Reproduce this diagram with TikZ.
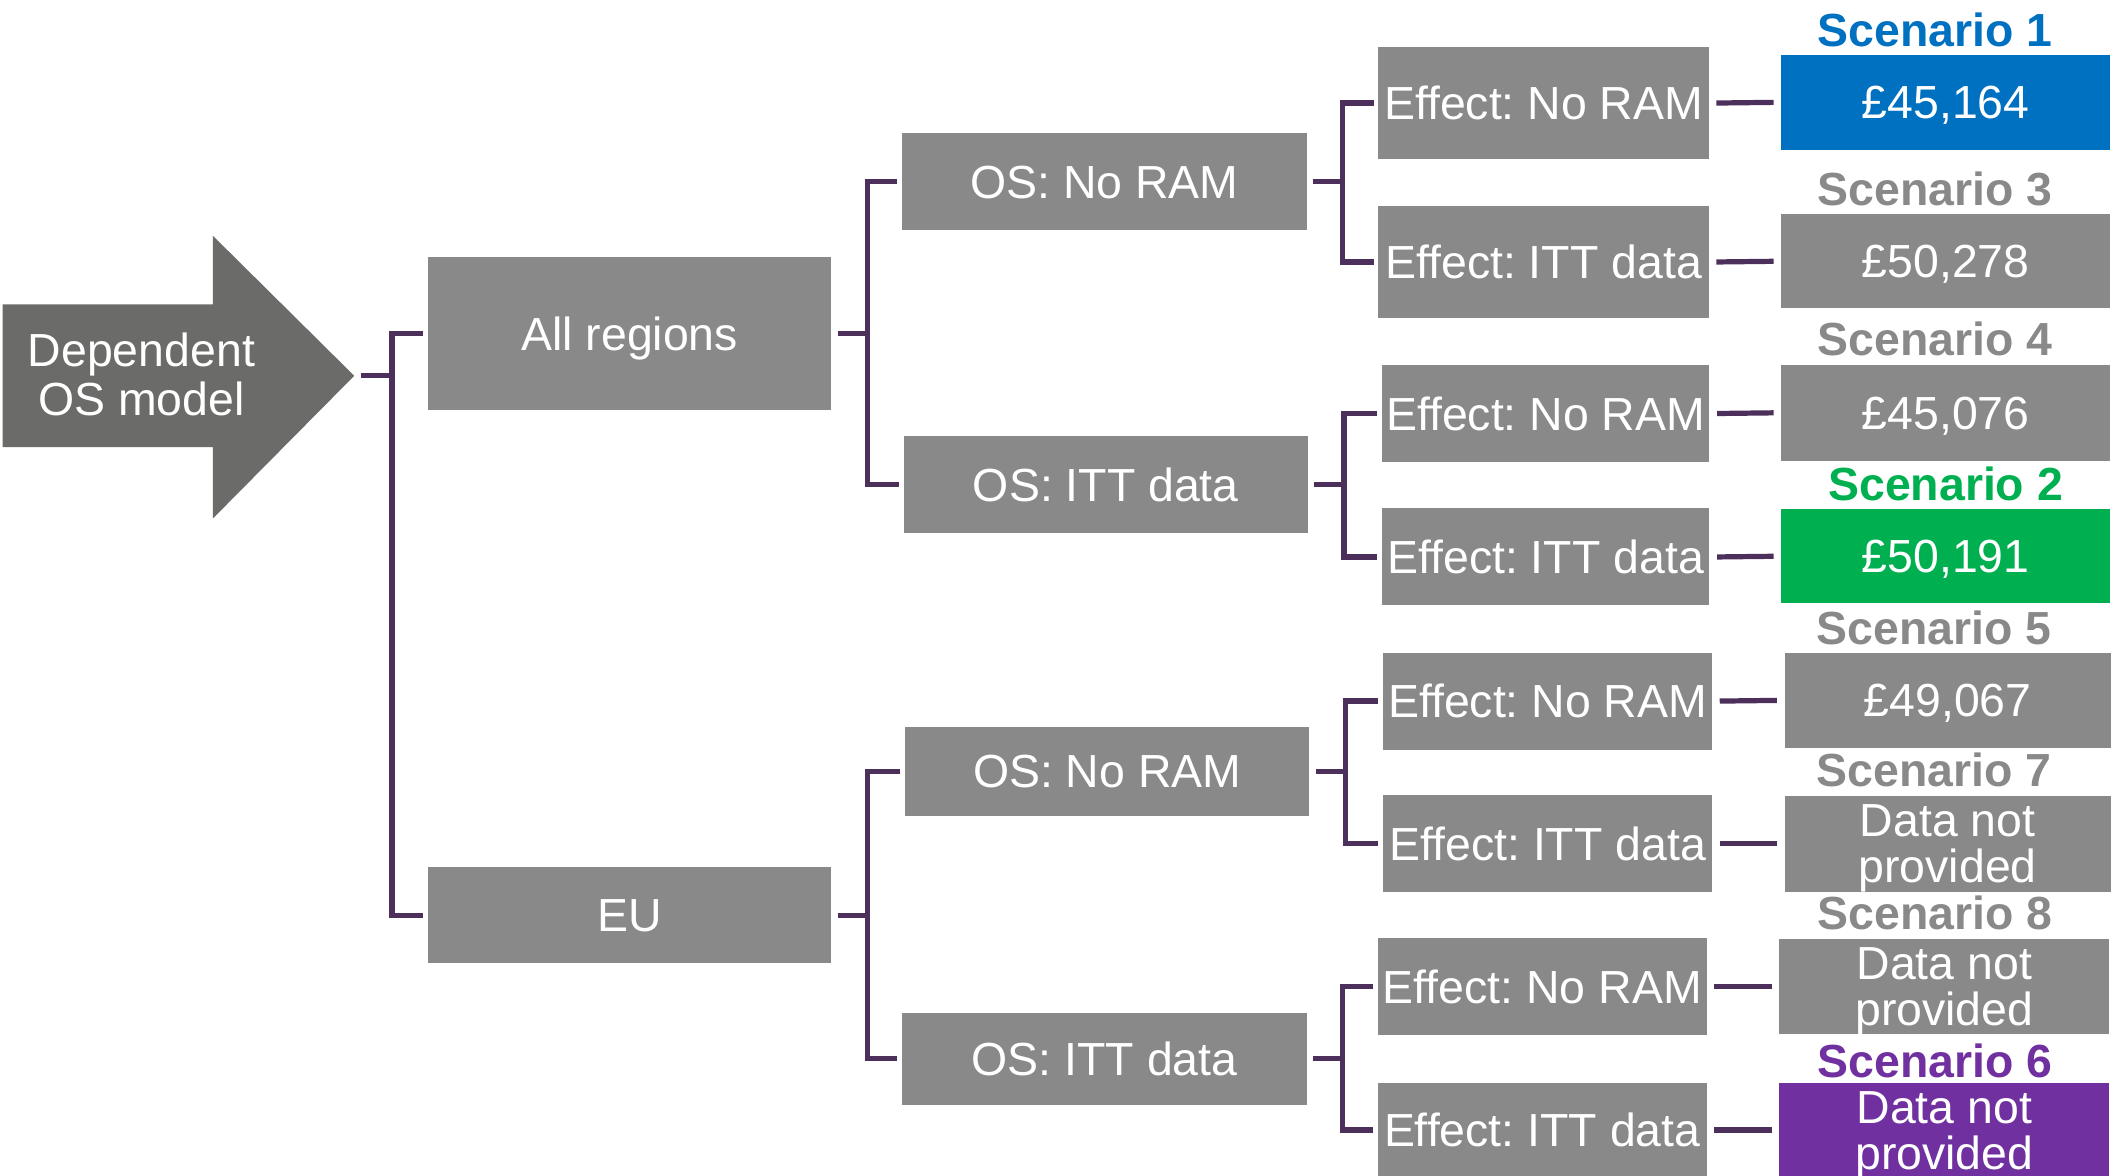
\documentclass[tikz,border=0pt]{standalone}
\usepackage{fontspec}
\setmainfont{Liberation Sans}
\frenchspacing

\definecolor{boxgray}{HTML}{898989}
\definecolor{arrowgray}{HTML}{6B6B69}
\definecolor{linkpurple}{HTML}{4D2F5C}
\definecolor{scenblue}{HTML}{0070C0}
\definecolor{scengreen}{HTML}{00B050}
\definecolor{scenpurple}{HTML}{7030A0}

\begin{document}
\begin{tikzpicture}[x=0.01cm,y=-0.01cm,
        box/.style={fill=boxgray,text=white,inner sep=0pt,align=center,text depth=0pt,font=\fontsize{9.8pt}{9.7pt}\selectfont},
        regionbox/.style={box,minimum width=2.99cm},
        osbox/.style={box,minimum width=3cm},
        effbox/.style={box,minimum width=2.45cm,minimum height=0.72cm},
        scenbox/.style={box,minimum width=2.44cm,minimum height=0.71cm},
        scenname/.style={inner sep=0pt,anchor=base,font=\fontsize{9.8pt}{9.8pt}\selectfont\bfseries},
        link/.style={draw=linkpurple,line width=1.1pt}]
        \useasboundingbox (0,0) rectangle (1568,873);
        \fill[arrowgray] (2,226) -- (158,226) -- (158,175) -- (263,279) -- (158,385) -- (158,332) -- (2,332) -- cycle;
        \coordinate (tip) at (263,279);
        \node[text=white,align=center,inner sep=0pt,font=\fontsize{9.8pt}{10.2pt}\selectfont] (dep) at (105,278) {Dependent\\OS model};

        \node[regionbox,minimum height=1.13cm] (allreg) at (467.5,247.5) {All regions};
        \node[regionbox,minimum height=0.71cm] (eu) at (467.5,679.5) {EU};

        \node[osbox,minimum height=0.72cm] (osram1) at (820,135) {OS: No RAM};
        \node[osbox,minimum height=0.72cm] (ositt1) at (821,360) {OS: ITT data};
        \node[osbox,minimum height=0.66cm] (osram2) at (822,573) {OS: No RAM};
        \node[osbox,minimum height=0.68cm] (ositt2) at (820,786) {OS: ITT data};

        \node[effbox,minimum height=0.83cm] (eff1) at (1146,76.5) {Effect: No RAM};
        \node[effbox,minimum height=0.83cm] (eff2) at (1146,194.5) {Effect: ITT data};
        \node[effbox,minimum width=2.43cm] (eff3) at (1147.5,307) {Effect: No RAM};
        \node[effbox,minimum width=2.43cm] (eff4) at (1147.5,413.5) {Effect: ITT data};
        \node[effbox,minimum width=2.44cm] (eff5) at (1149,520.5) {Effect: No RAM};
        \node[effbox,minimum width=2.44cm] (eff6) at (1149,626.5) {Effect: ITT data};
        \node[effbox,minimum width=2.44cm] (eff7) at (1145,732.5) {Effect: No RAM};
        \node[effbox,minimum width=2.44cm,minimum height=0.7cm] (eff8) at (1145,839) {Effect: ITT data};

        \node[scenbox,fill=scenblue,minimum height=0.70cm] (scen1) at (1444.5,76) {£45,164};
        \node[scenbox,minimum height=0.70cm] (scen3) at (1444.5,194) {£50,278};
        \node[scenbox] (scen4) at (1444.5,306.5) {£45,076};
        \node[scenbox,fill=scengreen,minimum height=0.70cm] (scen2) at (1444.5,413) {£50,191};
        \node[scenbox,minimum width=2.42cm,minimum height=0.70cm] (scen5) at (1446,520) {£49,067};
        \node[scenbox,minimum width=2.42cm] (scen7) at (1446,626.5) {Data not\\provided};
        \node[scenbox,minimum width=2.45cm] (scen8) at (1443.5,732.5) {Data not\\provided};
        \node[scenbox,fill=scenpurple,minimum width=2.45cm,minimum height=0.70cm] (scen6) at (1443.5,839) {Data not\\provided};

        \node[scenname,text=scenblue] (name1) at ([shift={(-8,-6)}]scen1.north) {Scenario 1};
        \node[scenname,text=boxgray] (name3) at ([shift={(-8,-6)}]scen3.north) {Scenario 3};
        \node[scenname,text=boxgray] (name4) at ([shift={(-8,-6)}]scen4.north) {Scenario 4};
        \node[scenname,text=scengreen] (name2) at ([shift={(0,-6)}]scen2.north) {Scenario 2};
        \node[scenname,text=boxgray] (name5) at ([shift={(-10,-6)}]scen5.north) {Scenario 5};
        \node[scenname,text=boxgray] (name7) at ([shift={(-10,-6)}]scen7.north) {Scenario 7};
        \node[scenname,text=boxgray] (name8) at ([shift={(-7,-6)}]scen8.north) {Scenario 8};
        \node[scenname,text=scenpurple] (name6) at ([shift={(-7,-3)}]scen6.north) {Scenario 6};

        \draw[link] ([xshift=0.05cm]tip) -- ++(23,0) coordinate (jroot) |- ([xshift=-0.03cm]allreg.west);
        \draw[link] (jroot) |- ([xshift=-0.03cm]eu.west);
        \draw[link] ([xshift=0.04cm]allreg.east) -- ++(22,0) coordinate (jall) |- ([xshift=-0.03cm]osram1.west);
        \draw[link] (jall) |- ([xshift=-0.03cm]ositt1.west);
        \draw[link] ([xshift=0.04cm]eu.east) -- ++(22,0) coordinate (jeu) |- ([xshift=-0.03cm]osram2.west);
        \draw[link] (jeu) |- ([xshift=-0.03cm]ositt2.west);
        \draw[link] ([xshift=0.04cm]osram1.east) -- ++(22,0) coordinate (jos1) |- ([xshift=-0.03cm]eff1.west);
        \draw[link] (jos1) |- ([xshift=-0.03cm]eff2.west);
        \draw[link] ([xshift=0.04cm]ositt1.east) -- ++(22,0) coordinate (jos2) |- ([xshift=-0.03cm]eff3.west);
        \draw[link] (jos2) |- ([xshift=-0.03cm]eff4.west);
        \draw[link] ([xshift=0.04cm]osram2.east) -- ++(22,0) coordinate (jos3) |- ([xshift=-0.03cm]eff5.west);
        \draw[link] (jos3) |- ([xshift=-0.03cm]eff6.west);
        \draw[link] ([xshift=0.04cm]ositt2.east) -- ++(22,0) coordinate (jos4) |- ([xshift=-0.03cm]eff7.west);
        \draw[link] (jos4) |- ([xshift=-0.03cm]eff8.west);
        \draw[link] ([xshift=0.05cm]eff1.east) -- ([xshift=-0.05cm]scen1.west);
        \draw[link] ([xshift=0.05cm]eff2.east) -- ([xshift=-0.05cm]scen3.west);
        \draw[link] ([xshift=0.05cm]eff3.east) -- ([xshift=-0.05cm]scen4.west);
        \draw[link] ([xshift=0.05cm]eff4.east) -- ([xshift=-0.05cm]scen2.west);
        \draw[link] ([xshift=0.05cm]eff5.east) -- ([xshift=-0.05cm]scen5.west);
        \draw[link] ([xshift=0.05cm]eff6.east) -- ([xshift=-0.05cm]scen7.west);
        \draw[link] ([xshift=0.05cm]eff7.east) -- ([xshift=-0.05cm]scen8.west);
        \draw[link] ([xshift=0.05cm]eff8.east) -- ([xshift=-0.05cm]scen6.west);
      \end{tikzpicture}
\end{document}
